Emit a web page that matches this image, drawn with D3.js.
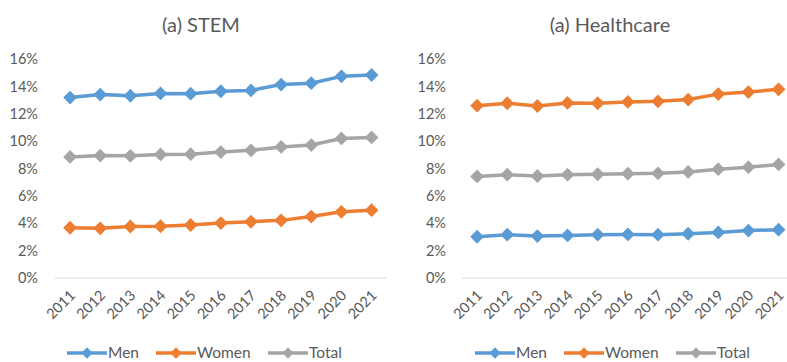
<!DOCTYPE html>
<html><head><meta charset="utf-8">
<script src="https://cdn.jsdelivr.net/npm/d3@7"></script>
<style>
html,body{margin:0;padding:0;background:#fff;}
svg{display:block;font-family:Lato,"Open Sans",sans-serif;}
</style></head>
<body><svg id="c" width="787" height="362"></svg>
<script>
const years = ["2011","2012","2013","2014","2015","2016","2017","2018","2019","2020","2021"];
const yTicks = [0,0.02,0.04,0.06,0.08,0.10,0.12,0.14,0.16];
const seriesNames = ["Men","Women","Total"];
const seriesColors = ["#5B9BD5","#ED7D31","#A5A5A5"];

const stemMen   = [13.20,13.42,13.33,13.50,13.48,13.66,13.72,14.15,14.25,14.75,14.85];
const stemWomen = [3.66,3.62,3.75,3.77,3.86,4.00,4.10,4.20,4.48,4.83,4.95];
const stemTotal = [8.85,8.95,8.93,9.03,9.05,9.20,9.33,9.58,9.72,10.20,10.28];

const hcMen   = [3.00,3.15,3.05,3.10,3.15,3.17,3.15,3.22,3.32,3.45,3.52];
const hcWomen = [12.60,12.78,12.58,12.80,12.78,12.88,12.92,13.05,13.45,13.60,13.80];
const hcTotal = [7.42,7.55,7.45,7.55,7.58,7.62,7.65,7.75,7.95,8.10,8.30];

const panels = [
  {title:"(a) STEM", data:[stemMen,stemWomen,stemTotal], x0:55, titleX:201, labelX:38, legendX:67},
  {title:"(a) Healthcare", data:[hcMen,hcWomen,hcTotal], x0:462, titleX:610, labelX:446, legendX:475}
];

const svg = d3.select("#c");
const textColor = "#595959";
const step = 30.15;
const y = d3.scaleLinear().domain([0,0.16]).range([277.7,59.3]);
const diamond = d3.symbol().type(d3.symbolSquare).size(95);

panels.forEach(p => {
  const g = svg.append("g");
  const x = d3.scalePoint().domain(years).range([p.x0, p.x0 + step*years.length]).padding(0.5);

  g.append("text").attr("x", p.titleX).attr("y", 32).attr("text-anchor","middle")
    .attr("font-size", 20).attr("fill", textColor).text(p.title);

  // y axis labels
  const yAxis = d3.axisLeft(y).tickValues(yTicks).tickFormat(d3.format(".0%")).tickSize(0).tickPadding(0);
  const ya = g.append("g").attr("transform", `translate(${p.labelX},0)`).call(yAxis);
  ya.select(".domain").remove();
  ya.selectAll("text").attr("font-size", 14.5).attr("fill", textColor).attr("font-family","Lato,'Open Sans',sans-serif");

  // x axis
  const xAxis = d3.axisBottom(x).tickSize(0).tickPadding(0);
  const xa = g.append("g").attr("transform", `translate(0,${y(0)})`).call(xAxis);
  xa.select(".domain").attr("stroke","#D9D9D9").attr("stroke-width",1)
    .attr("d", `M${p.x0},0.5H${p.x0 + step*years.length}`);
  xa.selectAll("text").attr("font-size", 14.5).attr("fill", textColor)
    .attr("font-family","Lato,'Open Sans',sans-serif")
    .attr("text-anchor","end").attr("dy","0.35em").attr("y",0)
    .attr("transform","translate(2,15) rotate(-45)");

  // lines
  const line = d3.line().x((d,i)=>x(years[i])).y(d=>y(d/100));
  p.data.forEach((vals, si) => {
    g.append("path").datum(vals).attr("d", line).attr("fill","none")
      .attr("stroke", seriesColors[si]).attr("stroke-width", 3.5).attr("stroke-linejoin","round");
  });
  p.data.forEach((vals, si) => {
    g.selectAll(null).data(vals).enter().append("path").attr("d", diamond)
      .attr("fill", seriesColors[si])
      .attr("transform", (d,i)=>`translate(${x(years[i])},${y(d/100)}) rotate(45)`);
  });

  // legend
  const legOffsets = [0, 89, 201];
  seriesNames.forEach((name, si) => {
    const lx = p.legendX + legOffsets[si];
    const ly = 353;
    const lg = g.append("g");
    lg.append("line").attr("x1", lx).attr("x2", lx+40).attr("y1", ly).attr("y2", ly)
      .attr("stroke", seriesColors[si]).attr("stroke-width", 3.5);
    lg.append("path").attr("d", d3.symbol().type(d3.symbolSquare).size(64))
      .attr("fill", seriesColors[si]).attr("transform", `translate(${lx+20},${ly}) rotate(45)`);
    lg.append("text").attr("x", lx+41).attr("y", ly).attr("dy","0.35em")
      .attr("font-size", 15.5).attr("fill", textColor).text(name);
  });
});
</script>
</body></html>
